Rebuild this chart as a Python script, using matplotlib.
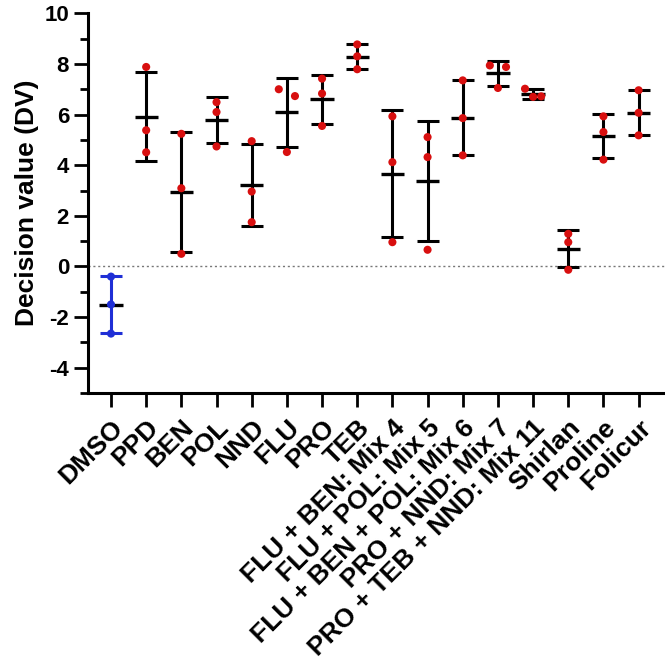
import matplotlib
matplotlib.use("Agg")
import matplotlib.pyplot as plt
import numpy as np
from matplotlib.ticker import MultipleLocator

plt.rcParams["font.family"] = ["Liberation Sans", "DejaVu Sans"]
plt.rcParams["font.weight"] = "bold"
plt.rcParams["axes.unicode_minus"] = False

categories = [
    "DMSO", "PPD", "BEN", "POL", "NND", "FLU", "PRO", "TEB",
    "FLU + BEN: Mix 4", "FLU + POL: Mix 5", "FLU + BEN + POL: Mix 6",
    "PRO + NND: Mix 7", "PRO + TEB + NND: Mix 11",
    "Shirlan", "Proline", "Folicur",
]

# three replicate decision values per treatment
replicates = [
    [-0.40, -1.50, -2.65],
    [7.88, 5.38, 4.51],
    [5.24, 3.09, 0.50],
    [6.49, 6.10, 4.74],
    [4.95, 2.96, 1.75],
    [7.00, 6.73, 4.52],
    [7.42, 6.83, 5.55],
    [8.77, 8.30, 7.79],
    [5.93, 4.12, 0.96],
    [5.11, 4.32, 0.66],
    [7.35, 5.86, 4.39],
    [7.94, 7.88, 7.05],
    [7.02, 6.72, 6.70],
    [1.29, 0.96, -0.13],
    [5.93, 5.31, 4.22],
    [6.96, 6.07, 5.18],
]

control_color = "#1f2fd6"
treat_color = "#d80f0f"


def spread_offsets(vals, thresh=0.3, dx=0.23):
    """Shift points sideways when two of them would overlap."""
    vals = list(vals)
    offs = [0.0] * len(vals)
    for i in range(len(vals)):
        for j in range(i + 1, len(vals)):
            if abs(vals[i] - vals[j]) < thresh and offs[i] == 0 and offs[j] == 0:
                offs[i], offs[j] = -dx, dx
    return offs


fig = plt.figure(figsize=(6.65, 6.64), dpi=100)
ax = fig.add_axes([0.132, 0.408, 0.868, 0.572])

ax.axhline(0, color="#777777", lw=1.0, ls=(0, (1.5, 2)), zorder=1)

for i, vals in enumerate(replicates):
    vals = np.array(vals)
    m = vals.mean()
    sd = vals.std(ddof=1)
    col = control_color if i == 0 else "black"
    ax.errorbar(i, m, yerr=sd, fmt="none", ecolor=col, elinewidth=2.2,
                capsize=8, capthick=2.2, zorder=2)
    ax.hlines(m, i - 0.33, i + 0.33, color="black", lw=2.4, zorder=3)
    pc = control_color if i == 0 else treat_color
    offs = spread_offsets(vals)
    ax.scatter(i + np.array(offs), vals, s=34, color=pc, edgecolors="none", zorder=4)

ax.set_xlim(-0.66, 15.75)
ax.set_ylim(-5, 10)
ax.set_xticks(range(len(categories)))
ax.set_xticklabels(categories, rotation=45, ha="right", rotation_mode="anchor",
                   fontsize=19, fontweight="bold")
ax.yaxis.set_major_locator(MultipleLocator(2))
ax.yaxis.set_minor_locator(MultipleLocator(1))
ax.set_yticks([-4, -2, 0, 2, 4, 6, 8, 10])
ax.tick_params(axis="y", labelsize=16, width=2, length=10, which="major")
ax.tick_params(axis="y", width=2, length=6, which="minor")
ax.tick_params(axis="x", width=2, length=10, pad=6)
for lab in ax.get_yticklabels():
    lab.set_fontweight("bold")

ax.set_ylabel("Decision value (DV)", fontsize=19, fontweight="bold", labelpad=4)

for s in ["top", "right"]:
    ax.spines[s].set_visible(False)
for s in ["left", "bottom"]:
    ax.spines[s].set_linewidth(2.2)

fig.savefig("out.png", dpi=100)
